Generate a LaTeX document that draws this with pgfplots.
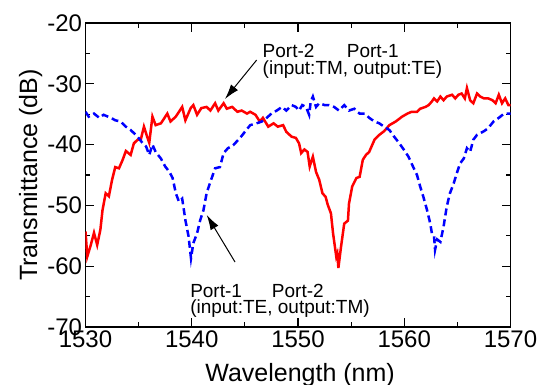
\documentclass[border=0pt]{standalone}
\usepackage{fontspec}
\setmainfont{Liberation Sans}
\usepackage{pgfplots}
\pgfplotsset{compat=1.18}
\usetikzlibrary{arrows.meta}
\begin{document}
\begin{tikzpicture}
\begin{axis}[
 at={(85.5pt,58pt)}, anchor=south west,
 width=425pt, height=304pt, scale only axis,
 xmin=1530, xmax=1570, ymin=-70, ymax=-20,
 xtick={1530,1540,...,1570}, ytick={-70,-60,...,-20},
 minor x tick num=1, minor y tick num=1,
 major tick length=9pt, minor tick length=4.5pt,
 tick style={line width=1.2pt, black},
 axis line style={line width=1.5pt},
 ticklabel style={font=\fontsize{24}{24}\selectfont},
 /pgf/number format/assume math mode=true,
 /pgf/number format/1000 sep={},
 xlabel={Wavelength (nm)}, ylabel={Transmittance (dB)},
 label style={font=\fontsize{25}{25}\selectfont},
 xlabel style={at={(axis description cs:0.505,-0.1796)}, anchor=base},
 ylabel style={at={(axis description cs:-0.114,0.5)}, anchor=base},
]
\addplot[red, line width=2.5pt, no marks] coordinates {
(1530,-54.3) (1530.17,-58.4) (1530.5,-56.5) (1530.8,-54.5) (1531.1,-56.5) (1531.4,-54)
(1531.6,-50.8) (1531.9,-48) (1532.2,-48.5) (1532.5,-45.8) (1532.8,-43.7) (1533.15,-43.9)
(1533.5,-42.5) (1533.8,-41.05) (1534.25,-41.7) (1534.55,-39.8) (1534.9,-39.2) (1535.2,-39.2)
(1535.5,-37.05) (1535.8,-38.7) (1536,-39.7) (1536.3,-35.4) (1536.6,-36.8) (1537.1,-36.5)
(1537.7,-34.9) (1538,-36.2) (1538.5,-35.4) (1539.1,-33.8) (1539.4,-36) (1539.9,-34)
(1540.15,-33.5) (1540.5,-35.1) (1540.9,-34) (1541.4,-33.8) (1541.75,-34.4) (1542.2,-33.2)
(1542.5,-34.4) (1543,-33.2) (1543.3,-34.1) (1543.8,-33.8) (1544.3,-34.6) (1544.7,-34.4)
(1545.2,-34.9) (1545.5,-34.6) (1546,-35.1) (1546.4,-36.2) (1546.7,-35.6) (1547.2,-37.05)
(1547.7,-36.5) (1548.1,-37.05) (1548.6,-36.8) (1548.9,-37.9) (1549.4,-38.7) (1549.8,-38.9)
(1550.1,-39.8) (1550.3,-41.4) (1550.6,-40.8) (1550.9,-41.2) (1551.1,-43.6) (1551.4,-42)
(1551.7,-44.5) (1552,-45.8) (1552.3,-48) (1552.6,-48.6) (1552.8,-49.9) (1553.1,-51.3)
(1553.3,-54.6) (1553.6,-58.4) (1553.7,-57.9) (1553.8,-60.3) (1554.05,-56.8) (1554.35,-53)
(1554.7,-52.5) (1554.8,-49.7) (1555.1,-46.9) (1555.5,-45.5) (1555.8,-45.3) (1556.1,-42.5)
(1556.4,-41.7) (1556.7,-41.2) (1557.2,-39.2) (1557.65,-38.4) (1558.1,-37.8) (1558.6,-36.8)
(1559.2,-36.2) (1559.8,-35.4) (1560.3,-34.9) (1560.7,-34.6) (1561.2,-34.6) (1561.5,-34.1)
(1562,-33.8) (1562.3,-33.5) (1562.6,-32.9) (1562.8,-32.4) (1563.1,-32.9) (1563.4,-32.1)
(1563.7,-32.7) (1564,-32.1) (1564.5,-31.8) (1564.8,-32.4) (1565.1,-31.8) (1565.4,-31.6)
(1565.7,-32.4) (1565.9,-30.7) (1566.2,-32.7) (1566.5,-33.2) (1566.85,-31.6) (1567.15,-32.1)
(1567.5,-32.4) (1567.9,-32.4) (1568.3,-32.7) (1568.6,-33.2) (1568.9,-31.8) (1569.2,-33.2)
(1569.5,-32.4) (1569.8,-33.5) (1570,-33.5)
};
\addplot[blue, line width=2.5pt, no marks, dash pattern=on 7pt off 4pt] coordinates {
(1530,-34.6) (1530.3,-35.4) (1530.8,-34.9) (1531.3,-35.6) (1531.7,-35.1) (1532.4,-35.6)
(1532.8,-36) (1533.3,-36.2) (1533.8,-37.05) (1534.25,-37.6) (1534.55,-38.1) (1534.9,-38.7)
(1535.35,-39.7) (1535.7,-40.3) (1536,-41.7) (1536.3,-40) (1536.6,-41.2) (1537.1,-42.3)
(1537.5,-43.6) (1537.9,-44.5) (1538.2,-45.5) (1538.5,-48) (1538.8,-49.4) (1539.1,-48.9)
(1539.4,-52.4) (1539.7,-55.1) (1539.93,-58.7) (1540.15,-56.2) (1540.5,-54.6) (1540.8,-52.4)
(1541.1,-50.8) (1541.4,-48) (1541.7,-46.4) (1542.2,-43.9) (1542.65,-43.7) (1543,-41.4)
(1543.4,-40.6) (1543.9,-40.1) (1544.5,-39) (1545,-37.9) (1545.5,-36.8) (1546.1,-36.5)
(1546.6,-36.2) (1547.05,-35.6) (1547.5,-34.9) (1548,-34.4) (1548.5,-33.8) (1548.9,-34.4)
(1549.4,-33.5) (1549.8,-33.8) (1550.1,-34.4) (1550.4,-33.5) (1550.75,-33.8) (1551.05,-35.1)
(1551.2,-32.9) (1551.4,-32.1) (1551.7,-33.8) (1552,-33.2) (1552.5,-33.5) (1552.9,-33.5)
(1553.4,-33.8) (1553.85,-34.4) (1554.35,-33.5) (1554.8,-34.4) (1555.3,-34.1) (1555.8,-34.9)
(1556.3,-34.9) (1556.7,-35.6) (1557.2,-36.2) (1557.65,-36.5) (1558.1,-37.05) (1558.6,-37.6)
(1559.05,-38.7) (1559.5,-39.7) (1559.95,-40.8) (1560.4,-42) (1560.9,-43.9) (1561.2,-45)
(1561.5,-46.9) (1561.8,-48.6) (1562.15,-50.8) (1562.45,-53) (1562.6,-54.6) (1562.8,-55)
(1562.9,-57.3) (1563.1,-55.6) (1563.4,-56) (1563.7,-53.5) (1564,-50.2) (1564.3,-48)
(1564.65,-46.4) (1564.95,-44.7) (1565.25,-43.1) (1565.6,-42.3) (1565.9,-40.6) (1566.2,-41.2)
(1566.5,-39.2) (1566.85,-38.4) (1567.5,-37.8) (1567.9,-37.3) (1568.4,-36.2) (1568.9,-35.6)
(1569.4,-34.9) (1570,-34.9)
};
\draw[line width=1pt, -{Latex[length=15pt,width=9pt]}] (axis cs:1546.11,-26.09) -- (axis cs:1543.13,-32.5);
\draw[line width=1pt, -{Latex[length=15pt,width=9pt]}] (axis cs:1544.07,-59.31) -- (axis cs:1541.41,-51.58);
\begin{scope}[every node/.style={anchor=base west, inner sep=0pt, font=\fontsize{19}{19}\selectfont}]
\node at (axis cs:1546.66,-25.67) {Port-2};
\node at (axis cs:1554.58,-25.67) {Port-1};
\node at (axis cs:1546.66,-28.55) {(input:TM, output:TE)};
\node at (axis cs:1539.84,-65.07) {Port-1};
\node at (axis cs:1547.53,-65.07) {Port-2};
\node at (axis cs:1539.84,-67.86) {(input:TE, output:TM)};
\end{scope}
\end{axis}
\pgfresetboundingbox
\useasboundingbox (0,0) rectangle (541pt,385pt);
\end{tikzpicture}
\end{document}
